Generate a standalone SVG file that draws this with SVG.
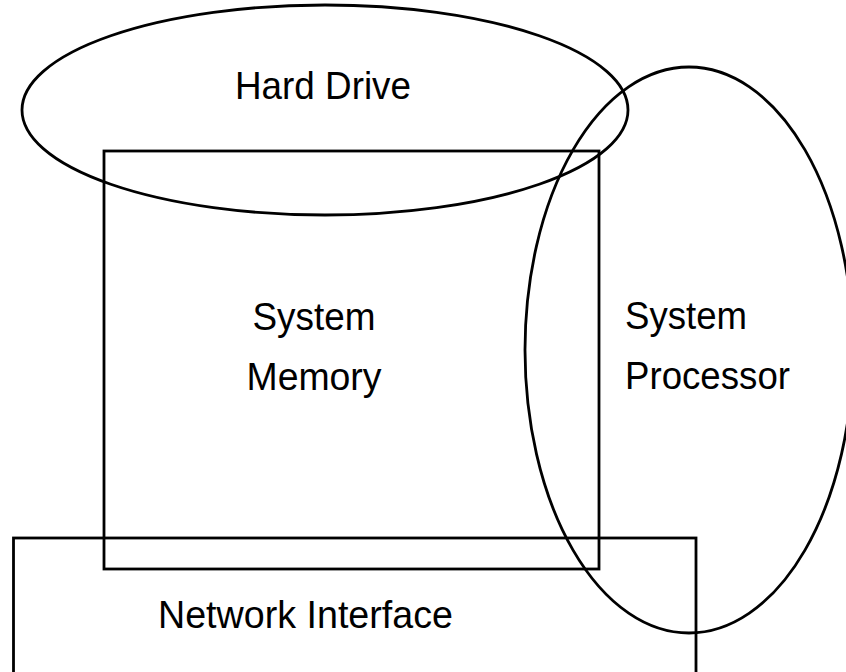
<svg xmlns="http://www.w3.org/2000/svg" width="846" height="672" viewBox="0 0 846 672">
<style>
.shape{fill:none;stroke:#000;stroke-width:2.8}
.lbl{font-family:"Liberation Sans",Arial,sans-serif;font-size:39px;fill:#000}
</style>
<rect width="846" height="672" fill="#fff"/>
<g id="hard-drive">
<ellipse class="shape" cx="325" cy="110" rx="303" ry="105"/>
<text class="lbl" x="323" y="99" text-anchor="middle" textLength="176" lengthAdjust="spacingAndGlyphs">Hard Drive</text>
</g>
<g id="system-memory">
<rect class="shape" x="104" y="151" width="495" height="418"/>
<text class="lbl" x="314" y="330" text-anchor="middle" textLength="123" lengthAdjust="spacingAndGlyphs">System</text>
<text class="lbl" x="314" y="390" text-anchor="middle" textLength="135" lengthAdjust="spacingAndGlyphs">Memory</text>
</g>
<g id="system-processor">
<ellipse class="shape" cx="689" cy="350" rx="164" ry="283"/>
<text class="lbl" x="625" y="329" textLength="122" lengthAdjust="spacingAndGlyphs">System</text>
<text class="lbl" x="625" y="389" textLength="165" lengthAdjust="spacingAndGlyphs">Processor</text>
</g>
<g id="network-interface">
<rect class="shape" x="13.5" y="538" width="682.5" height="150"/>
<text class="lbl" x="158" y="628" textLength="295" lengthAdjust="spacingAndGlyphs">Network Interface</text>
</g>
<g id="connectors"/>
</svg>
